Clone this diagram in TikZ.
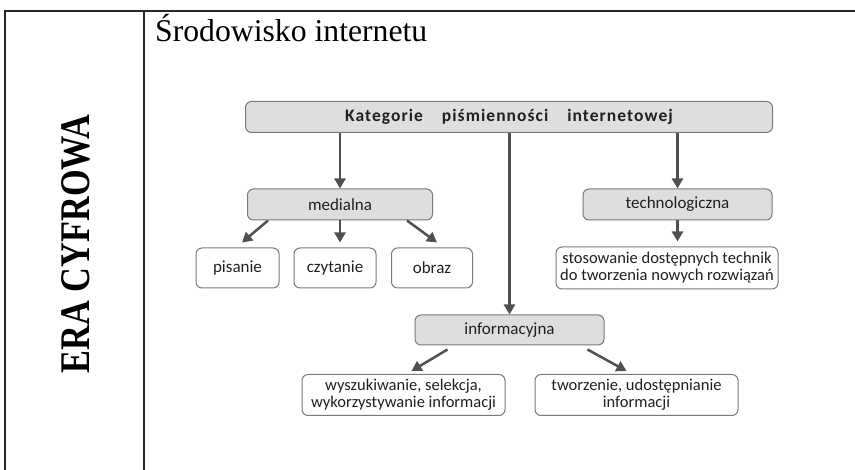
\documentclass[tikz,border=0pt]{standalone}
\usepackage{fontspec}
\usepackage{graphicx}
\setmainfont{Liberation Serif}
\newfontfamily\calfont{Carlito}
\newfontfamily\calsp[LetterSpace=6]{Carlito}
\usetikzlibrary{arrows.meta}
\definecolor{grayc}{HTML}{DEDEDE}
\definecolor{bordc}{HTML}{7A7A7A}
\definecolor{arrc}{HTML}{505050}
\definecolor{txt}{HTML}{202020}
\tikzset{
  gbox/.style={draw=bordc, fill=grayc, rounded corners=6pt, line width=1pt, inner sep=0pt,
    text=txt, font=\calfont\fontsize{17}{17}\selectfont},
  wbox/.style={draw=bordc, fill=white, rounded corners=6pt, line width=1pt, inner sep=0pt,
    text=txt, align=center, font=\calfont\fontsize{17}{17}\selectfont},
  arr/.style={draw=arrc, line width=2.5pt, -{Triangle[length=10pt,width=11pt]}},
  frame/.style={draw=black!85, line width=2pt}
}
\begin{document}
\begin{tikzpicture}[x=1pt,y=-1pt]
\useasboundingbox (0,0) rectangle (855,470);
\fill[white] (0,0) rectangle (855,470);
% table frame
\coordinate (tl) at (5,11);
\coordinate (tr) at (855,11);
\coordinate (bl) at (5,470);
\coordinate (dt) at (144,11);
\coordinate (db) at (144,470);
\draw[frame] (tr) -- (tl) -- (bl);
\draw[frame] (dt) -- (db);
% left column
\node[rotate=90, font=\bfseries\fontsize{34.3}{34}\selectfont, inner sep=0pt] (era) at (76,244)
  {\scalebox{1}[1.23]{ERA CYFROWA}};
% heading
\node[anchor=base west, font=\fontsize{31.7}{32}\selectfont, inner sep=0pt] (head) at (155,42)
  {Środowisko internetu};
% diagram
\node[gbox, minimum width=527pt, minimum height=31pt, font=\calsp\bfseries\fontsize{17.5}{17.5}\selectfont] (top) at (509,117)
  {Kategorie\hspace{19pt}piśmienności\hspace{19pt}internetowej};
\node[gbox, minimum width=185pt, minimum height=31pt] (med) at (340,204.5) {medialna};
\node[gbox, minimum width=189pt, minimum height=31pt] (tech) at (677.5,204.5) {technologiczna};
\node[wbox, minimum width=83pt, minimum height=40pt] (pis) at (237.5,268) {pisanie};
\node[wbox, minimum width=82pt, minimum height=40pt] (czy) at (335,268) {czytanie};
\node[wbox, minimum width=81pt, minimum height=40pt] (obr) at (432,268) {obraz};
\node[wbox, minimum width=222pt, minimum height=42pt, font=\calfont\fontsize{16.5}{17}\selectfont] (sto) at (667,268)
  {stosowanie dostępnych technik\\do tworzenia nowych rozwiązań};
\node[gbox, minimum width=189pt, minimum height=30pt] (inf) at (509.5,330) {informacyjna};
\node[wbox, minimum width=203pt, minimum height=41pt, font=\calfont\fontsize{16.5}{17}\selectfont] (wys) at (403.5,395)
  {wyszukiwanie, selekcja,\\wykorzystywanie informacji};
\node[wbox, minimum width=203pt, minimum height=41pt, font=\calfont\fontsize{16.5}{17}\selectfont] (two) at (636.5,395)
  {tworzenie, udostępnianie\\informacji};
% connectors
\draw[arr] (top.south -| med.north) -- (med.north);
\draw[arr] (top.south -| tech.north) -- (tech.north);
\draw[arr] (top.south -| inf.north) -- (inf.north);
\draw[arr] ([xshift=-72pt]med.south) -- ([xshift=4.5pt,yshift=5pt]pis.north);
\draw[arr] (med.south) -- ([yshift=5pt]med.south |- czy.north);
\draw[arr] ([xshift=67pt]med.south) -- ([xshift=5pt,yshift=5pt]obr.north);
\draw[arr] (tech.south) -- ([yshift=5pt]tech.south |- sto.north);
\draw[arr] ([xshift=-62pt,yshift=-4pt]inf.south) -- ([xshift=8pt,yshift=3pt]wys.north);
\draw[arr] ([xshift=78pt,yshift=-4pt]inf.south) -- ([xshift=-10pt,yshift=3pt]two.north);
\end{tikzpicture}
\end{document}
